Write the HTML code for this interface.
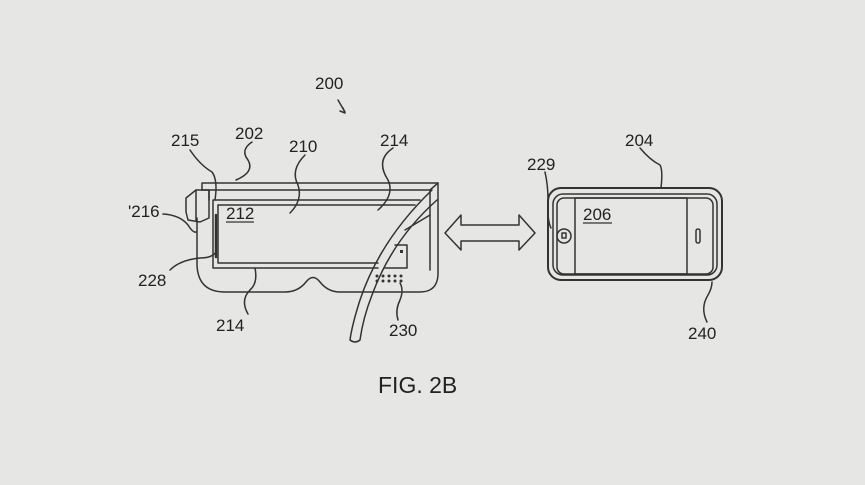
<!DOCTYPE html>
<html><head><meta charset="utf-8"><style>
html,body{margin:0;padding:0;background:#e6e6e4;}
svg{display:block}
text{font-family:"Liberation Sans",sans-serif;font-size:17px;fill:#222}
</style></head><body>
<svg width="865" height="485" viewBox="0 0 865 485" xmlns="http://www.w3.org/2000/svg">
<rect width="865" height="485" fill="#e6e6e4"/>
<g fill="none" stroke="#333" stroke-width="1.5" stroke-linecap="round" stroke-linejoin="round">
<path d="M202,190 L202,183 L438,183 L438,275 Q437,292 420,292 L340,292 Q328,292 320,282 Q313,273 306,282 Q298,292 285,292 L225,292 Q198,292 197,265 L197,218"/>
<path d="M202,190 L430,190 L438,183"/>
<path d="M209,190 L209,200 M430,190 L430,270"/>
<path d="M213,200 L420,200 M213,200 L213,268 L378,268"/>
<path d="M218,205 L218,263 L378,263"/>
<path d="M218,205 L415,205"/>
<path d="M395,245 L407,245 L407,268 L385,268"/>
<path d="M430,215 L405,230"/>
<path d="M432,190 Q380,240 360,300 Q352,325 350,340 Q355,344 360,340 Q363,318 372,295 Q392,240 437,200"/>
<path d="M186,198 L196,190 L209,190 L209,218 L200,222 L188,220 L186,212 Z"/>
<path d="M196,190 L196,220"/>
<path d="M216,215 L216,257" stroke-width="2.5"/>
<g stroke="none" fill="#333">
<circle cx="377" cy="276" r="1.5"/><circle cx="383" cy="276" r="1.5"/><circle cx="389" cy="276" r="1.5"/><circle cx="395" cy="276" r="1.5"/><circle cx="401" cy="276" r="1.5"/>
<circle cx="377" cy="281" r="1.5"/><circle cx="383" cy="281" r="1.5"/><circle cx="389" cy="281" r="1.5"/><circle cx="395" cy="281" r="1.5"/><circle cx="401" cy="281" r="1.5"/>
<rect x="400" y="250" width="3" height="3"/>
</g>
<path d="M445,233 L461,215 L461,225 L519,225 L519,215 L535,233 L519,250 L519,241 L461,241 L461,250 Z"/>
<rect x="548" y="188" width="174" height="92" rx="13" stroke-width="2"/>
<rect x="553" y="194" width="164" height="81" rx="10"/>
<rect x="557" y="198" width="156" height="76" rx="7"/>
<rect x="575" y="198" width="112" height="76"/>
<circle cx="564" cy="236" r="7"/>
<rect x="562" y="233" width="4" height="5"/>
<rect x="696" y="229" width="4" height="14" rx="2"/>
<path d="M338,100 Q342,107 345,112"/>
<path d="M343,108 L345,113 L340,111" />
<path d="M252,142 Q240,150 248,160 Q255,172 236,180"/>
<path d="M190,150 Q200,165 212,172 Q218,180 215,200"/>
<path d="M305,155 Q290,170 298,185 Q303,200 290,213"/>
<path d="M393,148 Q375,160 388,180 Q395,195 378,210"/>
<path d="M163,214 Q180,215 188,225 Q193,233 196,232"/>
<path d="M170,270 Q180,260 200,258 Q212,258 216,252"/>
<path d="M248,314 Q240,300 250,290 Q258,283 255,268"/>
<path d="M398,320 Q395,310 400,300 Q404,290 400,283"/>
<path d="M545,172 Q548,185 548,200 Q547,220 551,228"/>
<path d="M640,148 Q650,160 660,165 Q663,170 661,188"/>
<path d="M707,322 Q700,308 708,295 Q712,288 712,282"/>
</g>
<text x="315" y="89">200</text>
<text x="235" y="139">202</text>
<text x="171" y="146">215</text>
<text x="289" y="152">210</text>
<text x="380" y="146">214</text>
<text x="128" y="217">'216</text>
<text x="226" y="219">212</text>
<line x1="226" y1="222" x2="254" y2="222" stroke="#333" stroke-width="1.3"/>
<text x="138" y="286">228</text>
<text x="216" y="331">214</text>
<text x="389" y="336">230</text>
<text x="527" y="170">229</text>
<text x="625" y="146">204</text>
<text x="583" y="220">206</text>
<line x1="583" y1="223" x2="612" y2="223" stroke="#333" stroke-width="1.3"/>
<text x="688" y="339">240</text>
<text x="378" y="393" style="font-size:23px">FIG. 2B</text>
</svg>
</body></html>
